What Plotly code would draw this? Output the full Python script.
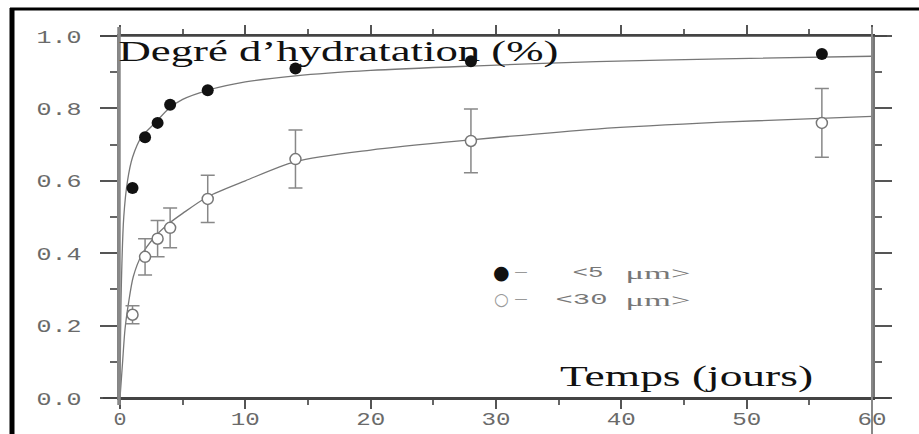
import json
import plotly.graph_objects as go

# ---------------- data ----------------
temps = [1, 2, 3, 4, 7, 14, 28, 56]
hyd_5um = [0.58, 0.72, 0.76, 0.81, 0.85, 0.91, 0.93, 0.95]
hyd_30um = [0.23, 0.39, 0.44, 0.47, 0.55, 0.66, 0.71, 0.76]
err_30um = [0.025, 0.05, 0.05, 0.055, 0.065, 0.08, 0.088, 0.095]

# fitted curves
t_fit_5 = [0, 0.1, 0.3, 0.6, 1.0, 1.7, 2.8, 3.9, 5, 7, 10, 14, 20, 28, 38, 48, 60]
fit_5um = [0, 0.30, 0.50, 0.60, 0.665, 0.72, 0.76, 0.80, 0.825, 0.85, 0.873, 0.89,
           0.905, 0.917, 0.929, 0.937, 0.944]
t_fit_30 = [0, 0.2, 0.4, 0.67, 1.06, 1.73, 2.8, 3.9, 5, 7, 10, 14, 20, 28, 38, 48, 60]
fit_30um = [0, 0.096, 0.19, 0.26, 0.335, 0.395, 0.446, 0.482, 0.51, 0.556, 0.60, 0.653,
            0.685, 0.713, 0.743, 0.762, 0.778]

x_ticks = [0, 10, 20, 30, 40, 50, 60]
x_ticktext = ["0", "10", "20", "30", "40", "50", "60"]
y_ticks = [0.0, 0.2, 0.4, 0.6, 0.8, 1.0]
y_ticktext = ["0.0", "0.2", "0.4", "0.6", "0.8", "1.0"]

title_y = "Degré d’hydratation (%)"
title_x = "Temps (jours)"
leg_5 = ["●", "<5", "μm>"]
leg_30 = ["○", "<30", "μm>"]
leg_dash = "—"

# ---------------- layout helpers ----------------
W, H = 919, 434
L, R, T, B = 120, 872, 36, 398


def px(p):
    return (p - L) / (R - L)


def py(p):
    return (B - p) / (B - T)


fig = go.Figure()

fig.add_trace(go.Scatter(x=t_fit_5, y=fit_5um, mode="lines",
                         line=dict(color="#777", width=1.3, shape="spline", smoothing=0.8),
                         showlegend=False, hoverinfo="skip"))
fig.add_trace(go.Scatter(x=t_fit_30, y=fit_30um, mode="lines",
                         line=dict(color="#777", width=1.3, shape="spline", smoothing=0.8),
                         showlegend=False, hoverinfo="skip"))
fig.add_trace(go.Scatter(x=temps, y=hyd_30um, mode="markers",
                         marker=dict(symbol="circle", size=11, color="white",
                                     line=dict(color="#777", width=1.5)),
                         error_y=dict(type="data", array=err_30um, visible=True,
                                      color="#888", thickness=1.5, width=7),
                         name="<30 μm", showlegend=False))
fig.add_trace(go.Scatter(x=temps, y=hyd_5um, mode="markers",
                         marker=dict(symbol="circle", size=12, color="#111"),
                         name="<5 μm", showlegend=False))

xtickfont = dict(family="Liberation Mono", size=18, color="#6a6a6a")
ytickfont = dict(family="Liberation Mono", size=19, color="#6a6a6a")
fig.update_xaxes(range=[0, 60], tickvals=x_ticks, ticktext=x_ticktext,
                 automargin=False,
                 showgrid=False, zeroline=False, showline=True, linecolor="#444",
                 linewidth=2, mirror="ticks", ticks="outside", ticklen=9,
                 tickwidth=2, tickcolor="#555", tickfont=xtickfont,
                 ticklabelstandoff=-6,
                 minor=dict(dtick=5, ticks="outside", ticklen=5, tickwidth=1.5,
                            tickcolor="#666", showgrid=False))
fig.update_yaxes(range=[0, 1], tickvals=y_ticks, ticktext=y_ticktext,
                 automargin=False,
                 showgrid=False, zeroline=False, showline=True, linecolor="#777",
                 linewidth=2.5, mirror="ticks", ticks="outside", ticklen=17,
                 tickwidth=2, tickcolor="#555", tickfont=ytickfont,
                 ticklabelstandoff=15,
                 minor=dict(dtick=0.1, ticks="outside", ticklen=7, tickwidth=1.5,
                            tickcolor="#666", showgrid=False))

shapes = []
# outer frame (left + top)
shapes.append(dict(type="line", xref="paper", yref="paper",
                   x0=px(12), x1=px(12), y0=py(8), y1=py(440),
                   line=dict(color="black", width=5)))
shapes.append(dict(type="line", xref="paper", yref="paper",
                   x0=px(10), x1=px(925), y0=py(9), y1=py(9),
                   line=dict(color="black", width=3)))
# axis line extensions
shapes.append(dict(type="line", xref="paper", yref="paper",
                   x0=px(103), x1=px(890), y0=py(B), y1=py(B),
                   line=dict(color="#444", width=2)))
shapes.append(dict(type="line", xref="paper", yref="paper",
                   x0=px(100), x1=px(887), y0=py(T), y1=py(T),
                   line=dict(color="#444", width=1.5)))
shapes.append(dict(type="line", xref="paper", yref="paper",
                   x0=px(L - 1), x1=px(L - 1), y0=py(27), y1=py(405),
                   line=dict(color="#888", width=3.5)))
shapes.append(dict(type="line", xref="paper", yref="paper",
                   x0=px(R), x1=px(R), y0=py(27), y1=py(440),
                   line=dict(color="#888", width=2)))

annotations = []
stretch = {}


def add_text(text, cx, cy, size, family, color, width=None):
    idx = len(annotations)
    annotations.append(dict(text=text, xref="paper", yref="paper",
                            x=px(cx), y=py(cy), xanchor="center", yanchor="middle",
                            showarrow=False,
                            font=dict(family=family, size=size, color=color)))
    if width:
        stretch[str(idx)] = width


add_text(title_y, 338, 51, 30, "Liberation Serif", "#111", 440)
add_text(title_x, 686.5, 376, 30, "Liberation Serif", "#111", 253)
# legend line 1
add_text(leg_5[0], 501, 272, 19, "DejaVu Sans", "#111")
add_text(leg_dash, 521, 272, 12, "DejaVu Sans", "#999", 13)
add_text(leg_5[1], 587.5, 273, 15, "Liberation Mono", "#777", 31)
add_text(leg_5[2], 657.5, 274, 16, "Liberation Serif", "#777", 65)
# legend line 2
add_text(leg_30[0], 501, 299, 17, "DejaVu Sans", "#999")
add_text(leg_dash, 521, 299, 12, "DejaVu Sans", "#999", 13)
add_text(leg_30[1], 581, 300, 15, "Liberation Mono", "#777", 52)
add_text(leg_30[2], 657.5, 301, 16, "Liberation Serif", "#777", 65)

fig.update_layout(width=W, height=H,
                  margin=dict(l=L, r=W - R, t=T, b=H - B, autoexpand=False),
                  paper_bgcolor="white", plot_bgcolor="white",
                  shapes=shapes, annotations=annotations, showlegend=False)

post = """
var gd = document.getElementById('{plot_id}');
var S = %s;
function fit(){
  gd.querySelectorAll('g.annotation').forEach(function(g){
    var i = g.getAttribute('data-index');
    if (S[i]) {
      var t = g.querySelector('text.annotation-text');
      if (t) { t.setAttribute('textLength', S[i]); t.setAttribute('lengthAdjust', 'spacingAndGlyphs'); }
    }
  });
  gd.querySelectorAll('g.ytick text, g.xtick text').forEach(function(t){
    var n = t.textContent.length;
    t.setAttribute('textLength', 16 * n - 3);
    t.setAttribute('lengthAdjust', 'spacingAndGlyphs');
  });
}
fit();
""" % json.dumps(stretch)

fig.write_html("out.html", post_script=post, config={"responsive": False, "displayModeBar": False})
